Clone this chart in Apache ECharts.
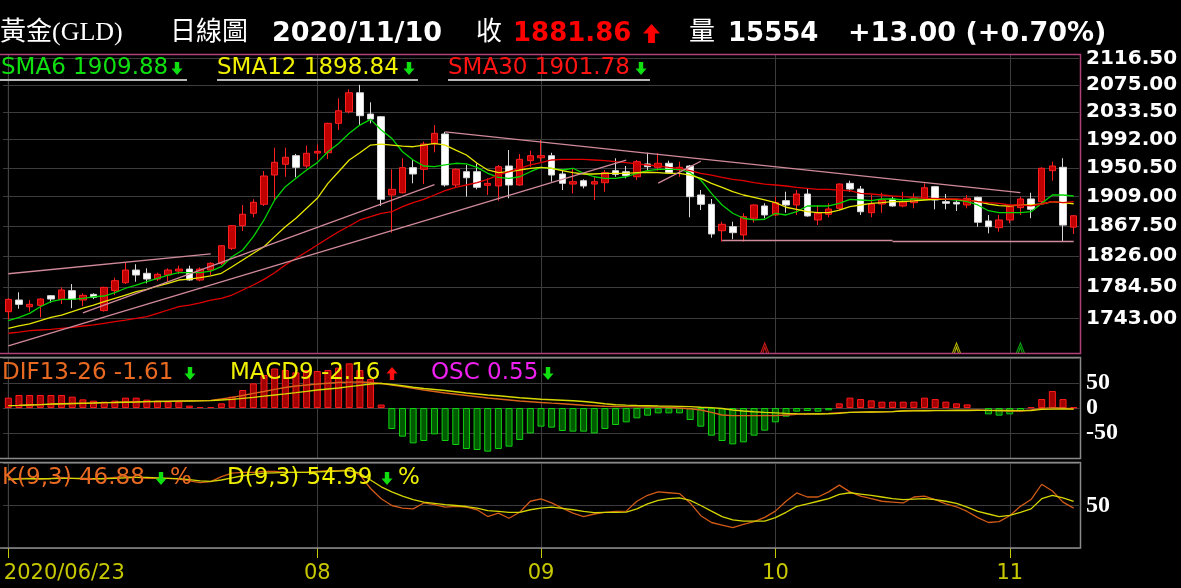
<!DOCTYPE html>
<html><head><meta charset="utf-8">
<script src="https://cdn.jsdelivr.net/npm/echarts@6/dist/echarts.min.js"></script>
<style>html,body{margin:0;padding:0;background:#000;}#c{width:1181px;height:588px;}</style>
</head><body><div id="c"></div>
<script>
// ---------- categories: trading days ----------
const monthDays = [
  ['2020/06', [23,24,25,26,29,30]],
  ['2020/07', [1,2,3,6,7,8,9,10,13,14,15,16,17,20,21,22,23,24,27,28,29,30,31]],
  ['2020/08', [3,4,5,6,7,10,11,12,13,14,17,18,19,20,21,24,25,26,27,28,31]],
  ['2020/09', [1,2,3,4,7,8,9,10,11,14,15,16,17,18,21,22,23,24,25,28,29,30]],
  ['2020/10', [1,2,5,6,7,8,9,12,13,14,15,16,19,20,21,22,23,26,27,28,29,30]],
  ['2020/11', [2,3,4,5,6,9,10]]
];
const dates = [];
monthDays.forEach(([m, ds]) => ds.forEach(d => dates.push(m + '/' + String(d).padStart(2, '0'))));

// ---------- OHLC ----------
const opens = [1751.9,1767.2,1758.4,1760.2,1772.9,1768.1,1779.6,1767.2,1774.7,1753.3,
1779.6,1790.2,1807.2,1802.8,1795.1,1800.5,1805.8,1808.5,1793.8,1807.2,
1816.3,1836.7,1868.0,1885.4,1898.1,1940.0,1955.6,1968.2,1953.1,1972.1,
1972.5,2016.3,2033.8,2062.8,2030.3,2026.3,1911.3,1914.5,1950.7,1948.3,
1985.4,2000.3,1925.6,1944.8,1944.8,1925.2,1924.2,1953.1,1925.6,1960.9,
1965.1,1968.2,1941.5,1927.0,1931.8,1927.0,1928.9,1946.3,1944.8,1937.5,
1956.1,1951.2,1957.1,1947.3,1953.1,1911.3,1898.1,1861.0,1866.6,1855.1,
1878.4,1895.7,1883.0,1903.2,1897.1,1912.7,1876.0,1884.0,1892.4,1928.0,
1919.8,1886.2,1898.5,1905.6,1895.7,1900.4,1906.6,1923.2,1901.8,1900.9,
1897.1,1908.0,1874.6,1865.2,1876.0,1893.3,1905.6,1901.8,1946.3,1951.2,
1866.0];
const closes = [1768.1,1761.5,1761.5,1768.5,1768.5,1780.5,1768.1,1773.4,1770.8,1784.0,
1792.9,1807.2,1800.5,1795.1,1801.4,1807.2,1808.5,1793.8,1808.5,1816.3,
1840.3,1868.0,1884.0,1900.9,1938.6,1958.5,1965.8,1951.2,1971.7,1974.6,
2016.3,2035.3,2062.8,2027.8,2022.8,1905.2,1919.4,1950.7,1941.5,1985.4,
2001.3,1925.6,1948.3,1936.1,1922.3,1928.0,1952.1,1925.6,1962.9,1968.2,
1968.2,1940.0,1928.0,1930.4,1924.2,1930.4,1943.4,1941.0,1939.0,1959.4,
1952.1,1957.1,1943.4,1951.2,1908.9,1898.1,1856.5,1870.0,1858.3,1880.6,
1897.1,1883.0,1900.4,1897.1,1912.7,1881.6,1885.4,1891.4,1927.0,1919.8,
1887.6,1898.5,1904.2,1895.7,1901.8,1906.6,1921.7,1904.2,1899.5,1898.5,
1906.6,1872.8,1866.6,1876.0,1894.7,1905.6,1891.0,1949.8,1953.1,1868.86,
1881.86];
const lows = [1741.9,1755.8,1752.0,1744.5,1763.6,1761.9,1756.4,1759.3,1768.5,1752.0,
1773.8,1788.4,1791.5,1789.3,1792.5,1791.5,1801.8,1792.9,1792.1,1800.5,
1814.0,1834.4,1860.6,1879.8,1895.7,1904.2,1937.5,1936.7,1949.8,1961.9,
1963.4,2006.2,2031.4,2013.7,2016.3,1895.7,1858.3,1913.7,1928.0,1927.0,
1973.1,1923.2,1922.3,1908.9,1919.4,1911.3,1903.2,1906.6,1924.6,1952.1,
1959.4,1930.4,1918.4,1913.7,1920.8,1904.2,1916.0,1937.5,1935.2,1932.8,
1947.3,1946.3,1942.5,1937.5,1879.8,1890.0,1851.4,1845.9,1849.2,1845.9,
1872.2,1878.4,1881.6,1886.2,1883.0,1880.6,1869.0,1879.8,1890.0,1916.0,
1883.0,1879.8,1886.2,1894.7,1893.9,1892.4,1904.2,1891.0,1891.0,1888.6,
1892.4,1866.6,1857.4,1859.6,1871.4,1883.0,1878.4,1899.5,1931.8,1846.9,
1856.5];
const highs = [1769.4,1777.4,1767.2,1769.4,1773.8,1784.0,1788.4,1776.1,1776.1,1784.9,
1796.9,1817.1,1815.0,1809.5,1803.6,1809.5,1813.1,1813.1,1810.8,1817.7,
1841.3,1869.0,1897.1,1905.2,1945.8,1979.9,1979.9,1970.7,1982.9,1984.9,
2017.2,2054.3,2068.1,2075.0,2048.2,2027.3,1948.3,1964.4,1961.9,1988.8,
2013.7,2003.7,1949.8,1954.6,1957.1,1935.2,1954.6,1976.5,1970.7,1975.5,
1991.3,1972.5,1948.3,1949.8,1933.8,1938.6,1947.3,1964.4,1953.1,1961.9,
1972.5,1971.7,1960.9,1959.4,1954.6,1918.4,1905.6,1873.6,1873.6,1885.4,
1898.1,1899.5,1908.9,1916.0,1918.4,1920.8,1897.1,1899.5,1928.0,1931.8,
1924.2,1911.3,1914.5,1908.9,1916.0,1913.7,1928.0,1924.2,1912.7,1904.2,
1911.3,1908.9,1883.0,1883.0,1897.1,1908.9,1914.5,1951.2,1959.4,1964.4,
1883.0];

// ---------- moving averages ----------
const sma6 = [1740.1,1744.5,1749.7,1758.4,1765.0,1768.1,1768.1,1769.4,1771.5,1772.5,
1776.9,1782.8,1787.1,1791.5,1796.1,1800.5,1803.6,1803.6,1803.6,1805.8,
1811.7,1825.3,1834.4,1852.8,1876.0,1904.2,1923.2,1935.2,1947.3,1958.0,
1974.0,1986.3,2001.3,2013.7,2022.3,2006.2,1993.8,1974.0,1961.9,1953.1,
1952.1,1954.6,1957.1,1956.1,1951.2,1942.5,1936.7,1935.2,1937.5,1944.8,
1951.2,1949.8,1947.3,1949.8,1942.5,1937.5,1935.2,1935.2,1937.5,1942.5,
1946.3,1948.3,1948.3,1948.3,1943.4,1932.8,1913.7,1897.1,1885.4,1878.4,
1876.0,1877.0,1885.4,1883.0,1887.6,1895.7,1895.7,1895.7,1899.5,1905.2,
1904.2,1903.2,1905.6,1905.6,1904.2,1905.6,1905.6,1905.6,1905.6,1904.2,
1901.8,1897.1,1889.0,1886.2,1886.2,1886.2,1887.6,1899.5,1911.3,1911.3,
1909.88];
const sma12 = [1730.3,1733.3,1735.9,1740.1,1744.5,1747.5,1751.9,1756.4,1760.6,1765.0,
1769.4,1773.8,1778.2,1781.4,1785.8,1789.3,1793.8,1795.1,1796.9,1799.2,
1802.8,1811.7,1820.8,1829.9,1838.9,1852.8,1866.6,1878.4,1892.4,1906.6,
1928.0,1944.8,1961.9,1972.5,1983.9,1985.4,1983.9,1982.4,1981.4,1983.9,
1986.4,1983.9,1976.5,1969.2,1957.1,1947.3,1943.4,1944.8,1947.3,1949.8,
1951.2,1949.8,1946.3,1943.4,1941.5,1941.5,1942.5,1942.5,1942.5,1943.4,
1944.0,1943.4,1942.5,1942.5,1940.0,1935.2,1928.0,1922.3,1916.0,1911.3,
1908.0,1904.2,1900.4,1893.9,1891.0,1887.6,1886.2,1886.2,1890.0,1894.7,
1897.1,1899.5,1900.4,1901.8,1901.8,1902.8,1904.2,1905.2,1905.2,1905.2,
1904.2,1901.8,1898.5,1896.1,1895.7,1897.1,1897.1,1898.5,1901.8,1900.4,
1898.84];
const sma30 = [1723.9,1725.5,1727.2,1728.1,1729.0,1730.3,1731.6,1733.3,1734.6,1736.8,
1738.9,1741.0,1743.3,1745.4,1749.7,1754.1,1758.4,1760.6,1763.6,1767.2,
1769.4,1773.8,1780.5,1787.1,1794.7,1803.6,1814.0,1823.1,1832.1,1841.3,
1850.6,1859.6,1867.6,1876.0,1880.6,1885.4,1887.6,1894.7,1900.4,1905.2,
1911.3,1917.4,1922.3,1925.6,1928.9,1933.8,1940.0,1944.8,1949.8,1954.6,
1958.0,1961.9,1962.9,1962.9,1962.9,1961.9,1960.9,1959.4,1958.0,1956.1,
1954.6,1953.1,1951.2,1949.8,1946.3,1942.5,1940.0,1936.7,1933.8,1931.8,
1928.9,1927.0,1925.6,1924.2,1922.3,1920.8,1919.4,1919.4,1918.4,1917.4,
1913.7,1912.7,1911.3,1909.9,1908.9,1908.0,1906.6,1906.6,1905.6,1905.6,
1904.2,1901.8,1900.4,1899.5,1897.1,1897.1,1895.7,1898.5,1901.8,1900.4,
1901.78];

// ---------- MACD ----------
const dif = [4.7,5.3,6,6.7,7.3,8,8.7,9.3,10,10.7,
11.3,12,12.3,12.7,13.3,13.7,14,14.3,14.7,15.3,
18,21.3,25,29.3,33,37.3,41,44,46,48,
49.5,51,51.7,52,51,49,46,42.7,39.3,36,
33,30,27.5,25,22.5,20,18,16,14,12.5,
11,9.7,8.5,7,5.5,4.5,3.5,3,2.7,2.3,
2,1.7,1,0,-1.5,-4,-8.7,-14,-15.3,-15.3,
-15.3,-15.3,-15.3,-14,-12.7,-12,-11.3,-10.7,-9.3,-8.7,
-8.3,-8,-7.7,-7.3,-5.3,-5,-5,-4.7,-4.7,-4.3,
-4.3,-4,-4.7,-5.3,-6,-6,-4,-0.7,0.7,0,
-1.61];
const macd = [4.7,5.3,6,6.7,8,8.5,9,9.5,10,10.7,
11,11.5,12,12.7,13,13.3,13.7,14,14.3,14.7,
16,17.3,19.3,21.3,23.7,26,28.3,30.7,33.3,36,
38,40,42.7,45.3,48,49.3,47,44.5,41.5,39,
37,35,32.5,30,28,26,24.5,22.5,20.5,19,
17.5,16.5,15.5,14.5,13,11,8.5,6.5,5.7,5,
4.5,4,3.6,3.2,2.7,1.5,0.7,-1,-4,-6,
-7.5,-8.7,-9.7,-10.7,-11.3,-11.7,-12,-11.5,-10.7,-8.7,
-8.3,-8,-7.7,-7.3,-6,-5.7,-5.5,-5.3,-5.3,-5,
-5,-4.7,-4.7,-5,-5,-5.3,-5.3,-2.7,-2.3,-2,
-2.16];
const osc = [20.7,26,26,26,26,26,22.7,17.3,14.7,12.7,
14.7,20.7,20.7,16.7,14.7,12.7,12.7,4.7,2,2,
9.3,22.7,36,49.3,66,79,76,71.3,76,74,
76,80.7,89.3,76,58,7,-42,-57.3,-70.7,-66,
-52.7,-66,-74,-82,-84,-87.3,-82,-77.3,-64,-50.7,
-37.3,-39.3,-46,-47.3,-47.3,-50.7,-42,-34,-28.7,-20.7,
-15.3,-10.7,-10.7,-10.7,-24,-37.3,-55.3,-66,-72.7,-68.7,
-55.3,-45.3,-28.7,-17.3,-7.3,-6,-7.3,-4.7,9.3,20.7,
18,15.3,12.7,12.7,12.7,12.7,20.7,18,12.7,9.3,
7.3,0,-12.7,-15.3,-12.7,-6,1.3,18,34,18,
1.3];

// ---------- KD ----------
const kLine = [80,82,82,81,82,83,82,81,81,82,
83,84,83,82,82,82,81,79,77,78,
84,88,89,89,90,90,89,89,89,90,
91,91,92,86,70,58,50,47,46,53,
51,48,49,48,45,37,41,35,42,55,
57.8,53,47,41,37,40,42,43,43.4,55,
62,66,65,64,53,38,30,27,24,27.9,
31,36,43.4,55,64.8,60,60,66,74,66,
61,58,55,54,53,60,61,57,52,48.5,
43,35.7,30,31,38,49,57,75,67,54,
46.88];
const dLine = [81,81,81.5,81.5,81.5,82,82,82,81.5,81.5,
82,82.5,83,83,82.5,82,81.5,80.5,79,78.5,
80,82.5,85,86.5,88,88.5,89,89,89,89.5,
90,90.5,91,88,80,72,66,61,57,54,
52.5,51,50,48.8,47,44,43,42,42,45,
47,48,46.5,45,43,41.5,42,42,42.2,46,
52,56,58,59,56,50,43.4,37,33,31.7,
31.7,31.7,35.7,42,49,52,55,58,63,65,
63.5,62,60,58,57,57.5,58,57,55,52.5,
48,43,40,37,38.5,42,46,58,62,59,
54.99];

// ---------- axis ticks / annotations ----------
const priceTicks = [1743.00,1784.50,1826.00,1867.50,1909.00,1950.50,1992.00,2033.50,2075.00,2116.50];
const priceRange = [1698.7, 2121.8];
const macdRange = [-100, 100];
const kdRange = [0, 100];
// trend lines: [startIndex, startPrice, endIndex, endPrice]
const trendLines = [
  [0, 1802.2, 19, 1829.0],
  [0, 1707.8, 58, 1961.6],
  [7, 1750.3, 40, 1926.3],
  [41, 2003.4, 95, 1914.6],
  [67, 1848.2, 83, 1848.2],
  [83, 1846.8, 100, 1846.8],
  [61, 1928.2, 65, 1960.0]
];
const signalIdx = [71, 89, 95];
const signalPrice = 1705;

// first day + month starts (the July start sits too close to the first label and is not marked)
const monthIdx = dates.map((d, i) => (i === 0 || d.slice(5, 7) !== dates[i - 1].slice(5, 7)) ? i : -1)
  .filter(i => i === 0 || i > 20);

// ---------- chart ----------
const chart = echarts.init(document.getElementById('c'));
const GL = 3, GR = 102;
const GRID_LINE = '#3c3c3c';
function vLines(range) {
  return monthIdx.map(i => [{ coord: [dates[i], range[0]] }, { coord: [dates[i], range[1]] }]);
}
function firstDayLine(g, range) {
  return { type: 'line', xAxisIndex: g, yAxisIndex: g, silent: true, symbol: 'none', z: 1, clip: false,
    data: [[dates[0], range[0]], [dates[0], range[1]]],
    lineStyle: { color: '#444444', width: 1 } };
}

function arrow(cx, top, h, w, dir, color) {
  const s = w * 0.2, hh = h * 0.5;
  let pts;
  if (dir === 'down') {
    pts = [[cx - s, top], [cx + s, top], [cx + s, top + h - hh], [cx + w / 2, top + h - hh], [cx, top + h], [cx - w / 2, top + h - hh], [cx - s, top + h - hh]];
  } else {
    pts = [[cx, top], [cx + w / 2, top + hh], [cx + s, top + hh], [cx + s, top + h], [cx - s, top + h], [cx - s, top + hh], [cx - w / 2, top + hh]];
  }
  return { type: 'polygon', shape: { points: pts }, style: { fill: color }, z: 50 };
}
function txt(x, y, text, font, fill) {
  return { type: 'text', x: x, y: y, style: { text: text, font: font, fill: fill, textVerticalAlign: 'middle', verticalAlign: 'middle' }, z: 40 };
}
function uline(x1, x2, y) {
  return { type: 'line', shape: { x1: x1, y1: y, x2: x2, y2: y }, style: { stroke: '#b8b8b8', lineWidth: 2 }, z: 40 };
}
function frame(top, bottom, color) {
  return { type: 'polyline', shape: { points: [[0, top], [1080.5, top], [1080.5, bottom], [0, bottom]] },
    style: { stroke: color, lineWidth: 1.5, fill: null }, z: 45, silent: true };
}

const BIG = 'bold 26px "DejaVu Sans"';
const BIG2 = 'bold 27px "DejaVu Sans"';
const CJK = '26px "Liberation Serif", "Noto Sans CJK TC"';
const LEG = '23px "DejaVu Sans"';

const graphics = [
  frame(54.5, 353.5, '#b0407a'),
  frame(357.5, 458.5, '#8a8a8a'),
  frame(462.5, 548, '#8a8a8a'),

  txt(0, 33, '黃金(GLD)', CJK, '#ffffff'),
  txt(170, 33, '日線圖', CJK, '#ffffff'),
  txt(272, 34, '2020/11/10', BIG2, '#ffffff'),
  txt(476, 33, '收', CJK, '#ffffff'),
  txt(513, 34, '1881.86', BIG, '#ff0000'),
  arrow(651.5, 24, 19, 17, 'up', '#ff0000'),
  txt(689, 33, '量', CJK, '#ffffff'),
  txt(728, 34, '15554', BIG, '#ffffff'),
  txt(848, 34, '+13.00 (+0.70%)', BIG2, '#ffffff'),

  txt(1, 68, 'SMA6 1909.88', LEG, '#10e010'),
  arrow(177, 62, 13, 11, 'down', '#10e010'),
  uline(0, 187, 80),
  txt(217, 68, 'SMA12 1898.84', LEG, '#f0f000'),
  arrow(409, 62, 13, 11, 'down', '#10e010'),
  uline(217, 418, 80),
  txt(448, 68, 'SMA30 1901.78', LEG, '#ff1414'),
  arrow(641, 62, 13, 11, 'down', '#10e010'),
  uline(448, 650, 80),

  txt(2, 373, 'DIF13-26 -1.61', LEG, '#e86a22'),
  arrow(190, 367, 13, 11, 'down', '#10e010'),
  txt(230, 373, 'MACD9 -2.16', LEG, '#f0f000'),
  arrow(392, 367, 13, 11, 'up', '#ff1010'),
  txt(431, 373, 'OSC 0.55', LEG, '#f020f0'),
  arrow(548, 367, 13, 11, 'down', '#10e010'),

  txt(2, 478, 'K(9,3) 46.88', LEG, '#e86a22'),
  arrow(161, 472, 13, 11, 'down', '#10e010'),
  txt(170, 478, '%', LEG, '#e86a22'),
  txt(227, 478, 'D(9,3) 54.99', LEG, '#f0f000'),
  arrow(387, 472, 13, 11, 'down', '#10e010'),
  txt(398, 478, '%', LEG, '#f0f000')
];

const xAxes = [0, 1, 2].map(g => ({
  type: 'category', gridIndex: g, data: dates, boundaryGap: true,
  axisLine: { show: false },
  axisTick: g === 2 ? { show: true, alignWithLabel: true, interval: (i) => monthIdx.includes(i), length: 10, lineStyle: { color: '#c8c800', width: 1 } } : { show: false },
  axisLabel: g === 2 ? {
    show: true, interval: (i) => monthIdx.includes(i), color: '#c8c800', hideOverlap: false,
    fontFamily: 'DejaVu Sans', fontSize: 21, margin: 15,
    formatter: (v, i) => i === 0 ? '{a|' + v + '}' : v.slice(5, 7),
    rich: { a: { color: '#c8c800', fontFamily: 'DejaVu Sans', fontSize: 21, padding: [0, 0, 0, 112] } }
  } : { show: false },
  splitLine: { show: false }
}));

const lineMarkBase = { silent: true, symbol: ['none', 'none'], z: 1, animation: false,
  lineStyle: { color: GRID_LINE, width: 1, type: 'solid' }, label: { show: false } };

const option = {
  backgroundColor: '#000000',
  animation: false,
  graphic: graphics,
  grid: [
    { left: GL, right: GR, top: 55, height: 298, show: false },
    { left: GL, right: GR, top: 358, height: 100, show: false },
    { left: GL, right: GR, top: 463, height: 85, show: false }
  ],
  xAxis: xAxes,
  yAxis: [
    { type: 'log', logBase: 10, gridIndex: 0, min: priceRange[0], max: priceRange[1], position: 'right',
      axisLine: { show: false }, axisTick: { show: false }, axisLabel: { show: false }, splitLine: { show: false } },
    { type: 'value', gridIndex: 1, min: macdRange[0], max: macdRange[1], interval: 50, position: 'right',
      axisLine: { show: false }, axisTick: { show: false },
      axisLabel: { color: '#ffffff', fontFamily: 'Liberation Serif', fontWeight: 'bold', fontSize: 24, margin: 7,
        formatter: v => Math.abs(v) === 100 ? '' : String(v),
        textShadowColor: '#5a78c8', textShadowOffsetX: 1, textShadowOffsetY: 1 },
      splitLine: { show: true, lineStyle: { color: GRID_LINE, width: 1 } } },
    { type: 'value', gridIndex: 2, min: kdRange[0], max: kdRange[1], interval: 50, position: 'right',
      axisLine: { show: false }, axisTick: { show: false },
      axisLabel: { color: '#ffffff', fontFamily: 'Liberation Serif', fontWeight: 'bold', fontSize: 24, margin: 7,
        formatter: v => v === 50 ? '50' : '',
        textShadowColor: '#5a78c8', textShadowOffsetX: 1, textShadowOffsetY: 1 },
      splitLine: { show: true, lineStyle: { color: GRID_LINE, width: 1 } } }
  ],
  series: [
    firstDayLine(0, priceRange),
    firstDayLine(1, macdRange),
    firstDayLine(2, kdRange),
    {
      type: 'candlestick', name: 'GLD', xAxisIndex: 0, yAxisIndex: 0, z: 3, barWidth: 7,
      data: dates.map((d, i) => [opens[i], closes[i], lows[i], highs[i]]),
      itemStyle: { color: '#c00000', color0: '#ffffff', borderColor: '#ff2020', borderColor0: '#d8d8d8', borderWidth: 1 },
      markLine: {
        silent: true, symbol: ['none', 'none'], z: 6, animation: false,
        lineStyle: { color: '#d08a9a', width: 1.3, type: 'solid' },
        label: { show: false },
        data: trendLines.map(t => [{ coord: [dates[t[0]], t[1]] }, { coord: [dates[t[2]], t[3]] }])
      }
    },
    { type: 'line', name: 'SMA6', xAxisIndex: 0, yAxisIndex: 0, data: sma6, symbol: 'none', z: 4,
      lineStyle: { color: '#00d400', width: 1.3 },
      markLine: Object.assign({}, lineMarkBase, { data: vLines(priceRange) }) },
    { type: 'line', name: 'SMA12', xAxisIndex: 0, yAxisIndex: 0, data: sma12, symbol: 'none', z: 4,
      lineStyle: { color: '#e6e600', width: 1.3 } },
    { type: 'line', name: 'SMA30', xAxisIndex: 0, yAxisIndex: 0, data: sma30, symbol: 'none', z: 4,
      lineStyle: { color: '#e00000', width: 1.3 },
      markLine: {
        silent: true, symbol: ['none', 'none'], z: 1, animation: false,
        lineStyle: { color: GRID_LINE, width: 1, type: 'solid' },
        label: { show: true, position: 'end', distance: 7, color: '#ffffff', fontFamily: 'DejaVu Sans', fontWeight: 'bold', fontSize: 20,
          formatter: p => Number(p.value).toFixed(2),
          textShadowColor: '#5a78c8', textShadowOffsetX: 1, textShadowOffsetY: 1 },
        data: priceTicks.map(v => ({ yAxis: v }))
      }
    },
    { type: 'scatter', name: 'signal', xAxisIndex: 0, yAxisIndex: 0, z: 5,
      symbol: 'path://M0,12L4,0L8,12M2,12L4,5L6,12', symbolSize: [8, 10],
      data: signalIdx.map((i, k) => ({ value: [dates[i], signalPrice],
        itemStyle: { color: 'rgba(0,0,0,0)', borderColor: ['#ff2020', '#e0e000', '#10d010'][k], borderWidth: 1.2 } })) },

    { type: 'bar', name: 'OSC+', xAxisIndex: 1, yAxisIndex: 1, barWidth: 7, barGap: '-100%', z: 3,
      data: osc.map(v => v > 0 ? v : null),
      itemStyle: { color: '#a00000', borderColor: '#ff1a1a', borderWidth: 1 },
      markLine: Object.assign({}, lineMarkBase, { data: vLines(macdRange) }) },
    { type: 'bar', name: 'OSC-', xAxisIndex: 1, yAxisIndex: 1, barWidth: 7, barGap: '-100%', z: 3,
      data: osc.map(v => v < 0 ? v : null),
      itemStyle: { color: '#005a00', borderColor: '#10d010', borderWidth: 1 } },
    { type: 'line', name: 'DIF', xAxisIndex: 1, yAxisIndex: 1, data: dif, symbol: 'none', z: 4,
      lineStyle: { color: '#d8641c', width: 1.3 } },
    { type: 'line', name: 'MACD', xAxisIndex: 1, yAxisIndex: 1, data: macd, symbol: 'none', z: 4,
      lineStyle: { color: '#d8d800', width: 1.3 } },

    { type: 'line', name: 'K', xAxisIndex: 2, yAxisIndex: 2, data: kLine, symbol: 'none', z: 4,
      lineStyle: { color: '#d05a16', width: 1.3 },
      markLine: Object.assign({}, lineMarkBase, { data: vLines(kdRange) }) },
    { type: 'line', name: 'D', xAxisIndex: 2, yAxisIndex: 2, data: dLine, symbol: 'none', z: 4,
      lineStyle: { color: '#d4d400', width: 1.3 } }
  ]
};
chart.setOption(option);
</script>
</body></html>
